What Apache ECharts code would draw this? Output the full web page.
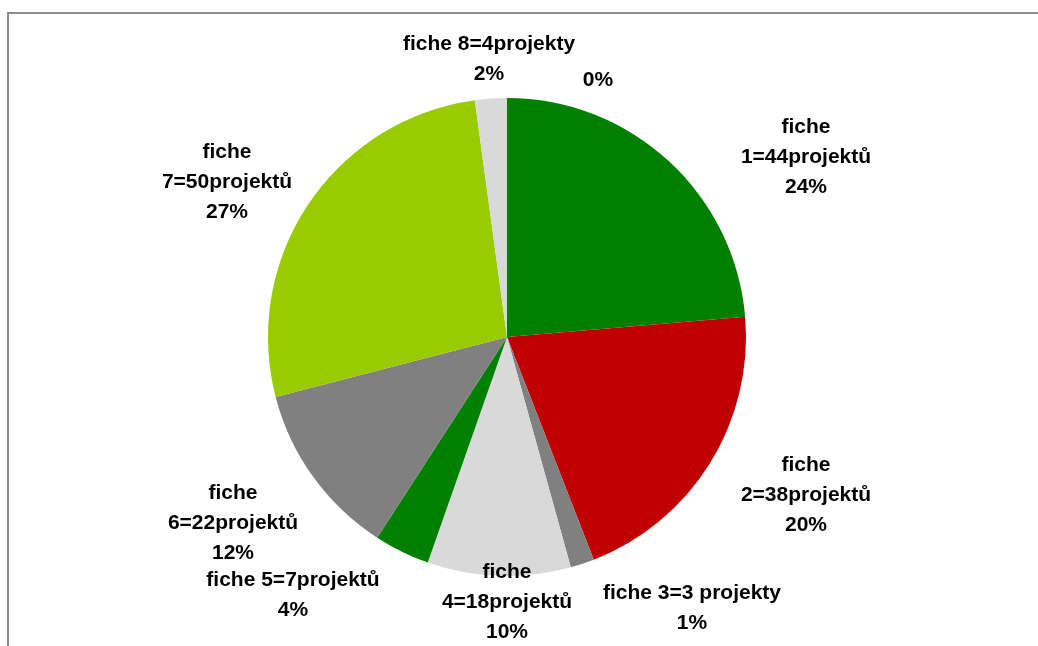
<!DOCTYPE html>
<html>
<head>
<meta charset="utf-8">
<script src="https://cdn.jsdelivr.net/npm/echarts@6/dist/echarts.min.js"></script>
<style>
  html, body { margin: 0; padding: 0; background: #fff; }
  #chart { width: 1038px; height: 646px; }
</style>
</head>
<body>
<div id="chart"></div>
<script>
// data
const categories = ['fiche\n1=44projektů', 'fiche\n2=38projektů', 'fiche 3=3 projekty', 'fiche\n4=18projektů',
    'fiche 5=7projektů', 'fiche\n6=22projektů', 'fiche\n7=50projektů', 'fiche 8=4projekty', ''];
const values = [44, 38, 3, 18, 7, 22, 50, 4, 0];
const percentLabels = ['24%', '20%', '1%', '10%', '4%', '12%', '27%', '2%', '0%'];
const colors = ['#008000', '#c00000', '#808080', '#d9d9d9', '#008000', '#808080', '#99cc00', '#d9d9d9', '#d9d9d9'];

// where Excel put each label (centre of the text block)
const labelSpots = [[806, 157], [806, 495], [692, 608], [507, 602], [293, 595], [233, 523], [227, 182], [489, 59], [598, 80]];

const chart = echarts.init(document.getElementById('chart'));

chart.setOption({
    animation: false,
    graphic: [{
        type: 'rect', shape: { x: 8, y: 13, width: 1100, height: 700 },
        style: { fill: 'none', stroke: '#8c8c8c', lineWidth: 2 }, silent: true
    }],
    series: [{
        type: 'pie',
        center: [507, 337],
        radius: 239,
        startAngle: 90,
        clockwise: true,
        avoidLabelOverlap: false,
        data: categories.map((c, i) => ({ name: c, value: values[i], itemStyle: { color: colors[i] } })),
        label: {
            show: true,
            position: 'outside',
            formatter: p => (p.name ? p.name + '\n' : '') + percentLabels[p.dataIndex],
            fontFamily: '"Liberation Sans Narrow", "Arial Narrow", sans-serif',
            fontWeight: 'bold',
            fontSize: 21,
            lineHeight: 30,
            color: '#000',
            align: 'center'
        },
        labelLine: { show: false },
        labelLayout: p => ({
            x: labelSpots[p.dataIndex][0],
            y: labelSpots[p.dataIndex][1],
            align: 'center',
            verticalAlign: 'middle'
        })
    }]
});
</script>
</body>
</html>
